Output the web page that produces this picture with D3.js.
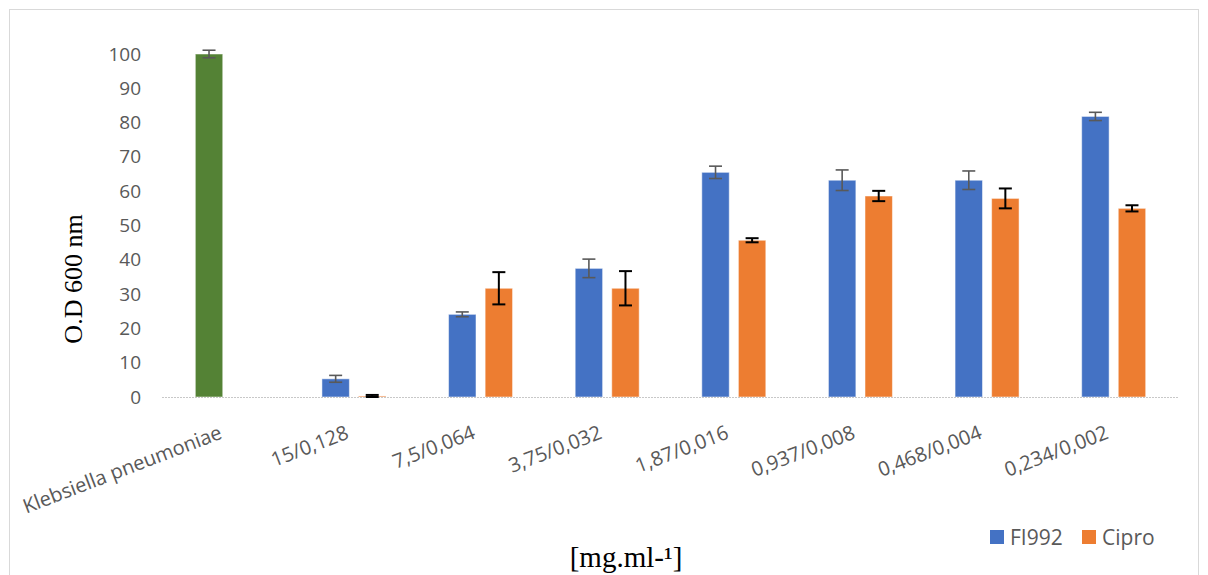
<!DOCTYPE html>
<html>
<head>
<meta charset="utf-8">
<script src="https://cdnjs.cloudflare.com/ajax/libs/d3/7.8.5/d3.min.js"></script>
<style>
  html, body { margin: 0; padding: 0; background: #fff; }
  svg { display: block; }
</style>
</head>
<body>
<svg id="chart" width="1208" height="575"></svg>
<script>
const categories = ["Klebsiella pneumoniae", "15/0,128", "7,5/0,064", "3,75/0,032", "1,87/0,016", "0,937/0,008", "0,468/0,004", "0,234/0,002"];
const seriesNames = ["FI992", "Cipro"];
const fi992 = [100, 5.3, 24.1, 37.5, 65.5, 63.2, 63.2, 81.8];
const fi992Err = [1.1, 1.0, 0.7, 2.7, 1.8, 3.0, 2.7, 1.2];
const cipro = [null, 0.3, 31.7, 31.7, 45.7, 58.6, 57.9, 55.0];
const ciproErr = [null, 0.3, 4.7, 5.0, 0.6, 1.5, 2.9, 0.9];
const yTicks = [0, 10, 20, 30, 40, 50, 60, 70, 80, 90, 100];
const yTitle = "O.D 600 nm";
const xTitle = "[mg.ml-\u00B9]";

const colors = { FI992: "#4472C4", Cipro: "#ED7D31", control: "#548235" };
const errColors = { FI992: "#595959", Cipro: "#000000" };

const svg = d3.select("#chart");

// frame
svg.append("rect").attr("x", 9.5).attr("y", 9.5).attr("width", 1189).attr("height", 600)
  .attr("fill", "none").attr("stroke", "#d9d9d9").attr("stroke-width", 1);

const y = d3.scaleLinear().domain([0, 100]).range([397, 54]);
const x = d3.scaleBand().domain(categories).range([164, 1177]).padding(0);
const xs = d3.scaleBand().domain(seriesNames).range([-32, 32]).paddingInner(0.25);

const rows = [];
categories.forEach((c, i) => {
  rows.push({ cat: c, s: "FI992", v: fi992[i], e: fi992Err[i], i });
  if (cipro[i] !== null) rows.push({ cat: c, s: "Cipro", v: cipro[i], e: ciproErr[i], i });
});

// y tick labels
const yAxis = d3.axisLeft(y).tickValues(yTicks).tickSize(0).tickPadding(0);
const gy = svg.append("g").attr("transform", "translate(141,0)").call(yAxis);
gy.select(".domain").remove();
gy.selectAll("text").attr("font-family", "Open Sans, sans-serif").attr("font-size", 19)
  .attr("fill", "#595959");

// bars
const barX = d => x(d.cat) + x.bandwidth() / 2 + xs(d.s);
svg.append("g").selectAll("rect").data(rows).join("rect")
  .attr("x", barX)
  .attr("y", d => y(d.v))
  .attr("width", xs.bandwidth())
  .attr("height", d => y(0) - y(d.v))
  .attr("fill", d => d.i === 0 ? colors.control : colors[d.s])
  .attr("stroke", "rgba(255,255,255,0.5)").attr("stroke-width", 1);

// baseline
svg.append("line").attr("x1", 162).attr("x2", 1178).attr("y1", y(0) + 0.5).attr("y2", y(0) + 0.5)
  .attr("stroke", "#c8c8c8").attr("stroke-width", 1.2).attr("stroke-dasharray", "2,1");

// error bars
const eg = svg.append("g");
rows.forEach(d => {
  const cx = barX(d) + xs.bandwidth() / 2;
  const col = errColors[d.s];
  const sw = d.s === "Cipro" ? 2 : 1.6;
  const top = y(d.v + d.e), bot = y(Math.max(0, d.v - d.e));
  eg.append("line").attr("x1", cx).attr("x2", cx).attr("y1", top).attr("y2", bot)
    .attr("stroke", col).attr("stroke-width", sw);
  [top, bot].forEach(yy => eg.append("line").attr("x1", cx - 6.5).attr("x2", cx + 6.5)
    .attr("y1", yy).attr("y2", yy).attr("stroke", col).attr("stroke-width", sw));
});

// x labels (rotated)
const xl = svg.append("g");
categories.forEach(c => {
  const px = x(c) + x.bandwidth() / 2 - 4, py = 438;
  xl.append("text").text(c)
    .attr("transform", `translate(${px},${py}) rotate(-21)`)
    .attr("text-anchor", "end")
    .attr("font-family", "Open Sans, sans-serif").attr("font-size", 20)
    .attr("fill", "#595959");
});

// axis titles
svg.append("text").text(yTitle)
  .attr("transform", "translate(82,279) rotate(-90)")
  .attr("text-anchor", "middle")
  .attr("font-family", "Liberation Serif, Times New Roman, serif").attr("font-size", 26)
  .attr("fill", "#000");
svg.append("text").text(xTitle)
  .attr("x", 626).attr("y", 567)
  .attr("text-anchor", "middle")
  .attr("font-family", "Liberation Serif, Times New Roman, serif").attr("font-size", 29)
  .attr("fill", "#000");

// legend
const legendPos = [{ s: "FI992", x: 990 }, { s: "Cipro", x: 1082 }];
const lg = svg.append("g");
legendPos.forEach(l => {
  lg.append("rect").attr("x", l.x).attr("y", 530).attr("width", 14).attr("height", 14)
    .attr("fill", colors[l.s]);
  lg.append("text").text(l.s).attr("x", l.x + 20).attr("y", 545)
    .attr("font-family", "Open Sans, sans-serif").attr("font-size", 21)
    .attr("fill", "#595959");
});
</script>
</body>
</html>
